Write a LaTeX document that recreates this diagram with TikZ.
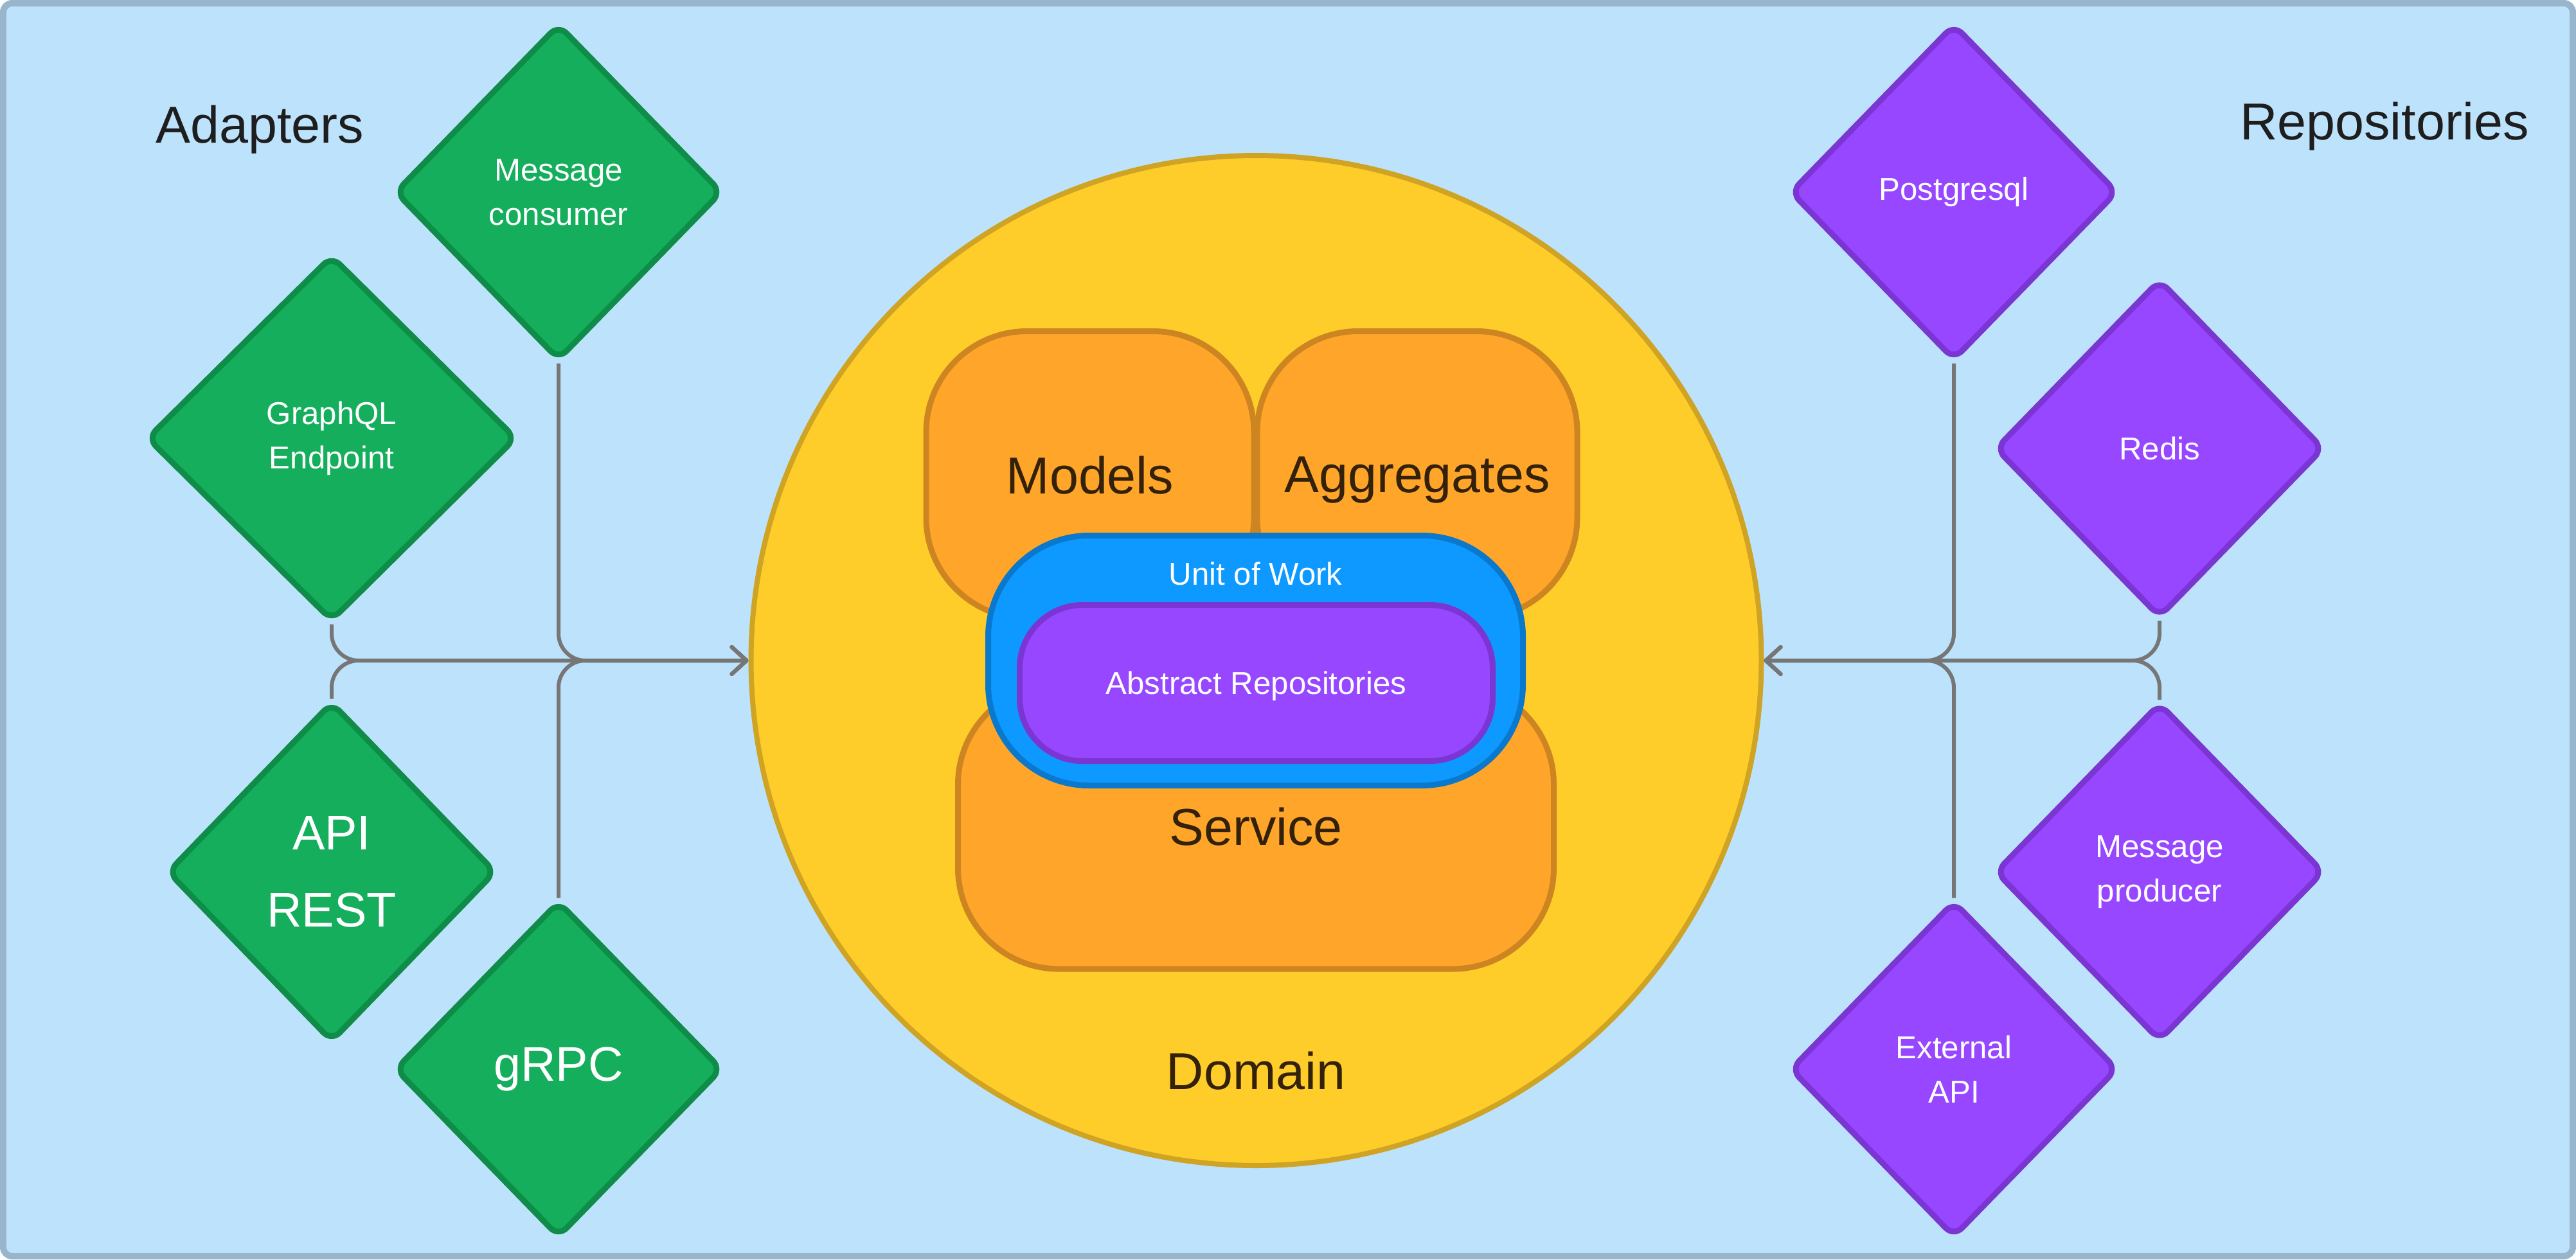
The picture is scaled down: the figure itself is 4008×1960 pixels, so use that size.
\documentclass[tikz,border=0pt]{standalone}
\usepackage{fontspec}
\setmainfont{Liberation Sans}
\usetikzlibrary{shapes.geometric,arrows.meta}
\definecolor{bgfill}{HTML}{BDE3FC}
\definecolor{bgline}{HTML}{97B6CC}
\definecolor{greenfill}{HTML}{14AE5C}
\definecolor{greenline}{HTML}{0E8C48}
\definecolor{purplefill}{HTML}{9747FF}
\definecolor{purpleline}{HTML}{7A35D2}
\definecolor{yellowfill}{HTML}{FFCD2A}
\definecolor{yellowline}{HTML}{CFA323}
\definecolor{orangefill}{HTML}{FFA62A}
\definecolor{orangeline}{HTML}{CD8522}
\definecolor{bluefill}{HTML}{0D99FF}
\definecolor{blueline}{HTML}{0A78CC}
\definecolor{linkgray}{HTML}{767676}
\definecolor{inktext}{HTML}{1E1E1E}
\definecolor{browntext}{HTML}{33210A}
\begin{document}
\begin{tikzpicture}[x=0.1mm,y=-0.1mm,
  adapter/.style={diamond,draw=greenline,fill=greenfill,line width=0.9mm,rounded corners=1.8mm,inner sep=0pt,minimum width=51mm,minimum height=52.4mm,text=white,align=center},
  repo/.style={adapter,draw=purpleline,fill=purplefill},
  small/.style={font=\fontsize{14}{19.6}\selectfont},
  big/.style={font=\fontsize{21.5}{34}\selectfont},
  title/.style={text=inktext,font=\fontsize{23}{28}\selectfont},
  block/.style={rectangle,draw=orangeline,fill=orangefill,line width=0.9mm,rounded corners=15.7mm,inner sep=0pt,text depth=0pt,text=browntext,font=\fontsize{23}{28}\selectfont},
  link/.style={draw=linkgray,line width=0.6mm,rounded corners=4.2mm,-{Straight Barb[length=2.3mm,width=4.2mm,round]}}]
\useasboundingbox (0,0) rectangle (4008,1960);
\draw[draw=bgline,fill=bgfill,line width=1mm,rounded corners=1.4mm] (5,5) rectangle (4003,1955);
% domain core
\node[circle,draw=yellowline,fill=yellowfill,line width=0.8mm,minimum size=157.2mm,inner sep=0pt] (domain) at (1954.5,1028) {};
\node[block,minimum width=51mm,minimum height=44.7mm] (models) at (1696,739) {Models};
\node[block,minimum width=49.8mm,minimum height=44.7mm] (aggregates) at (2205,739) {Aggregates};
\node[block,minimum width=92.7mm,minimum height=44.4mm] (service) at (1954,1286) {Service};
\node[rectangle,draw=blueline,fill=bluefill,line width=0.9mm,rounded corners=15.7mm,minimum width=83.2mm,minimum height=38.9mm] (uow) at (1953.5,1028) {};
\node[anchor=base,text=white,small] (uowlabel) at (1953.5,910) {Unit of Work};
\node[rectangle,draw=purpleline,fill=purplefill,line width=0.9mm,rounded corners=9.8mm,minimum width=73.6mm,minimum height=24.3mm,text depth=0pt,text=white,small] (absrepo) at (1954.5,1063) {Abstract Repositories};
\node[anchor=base,text=browntext,font=\fontsize{23}{28}\selectfont] (domainlabel) at (1954,1695) {Domain};
% adapters
\node[title,anchor=base west] (adapters) at (230,222) {Adapters};
\node[adapter,small] (mc) at (869,299) {Message\\consumer};
\node[adapter,small,minimum width=57.6mm,minimum height=57mm] (gql) at (516,682) {GraphQL\\Endpoint};
\node[adapter,big,minimum width=51.2mm,minimum height=53mm] (api) at (516,1357) {API\\REST};
\node[adapter,big] (grpc) at (869,1664) {gRPC};
% repositories
\node[title,anchor=base east] (repositories) at (3947,217) {Repositories};
\node[repo,small] (pg) at (3040,299) {Postgresql};
\node[repo,small,minimum width=51.2mm,minimum height=52.7mm] (redis) at (3360,698) {Redis};
\node[repo,small,minimum width=51.2mm,minimum height=52.7mm] (mp) at (3360,1357) {Message\\producer};
\node[repo,small] (ext) at (3040,1664) {External\\API};
% connectors
\draw[link] (gql.south) |- (domain.west);
\draw[link] (api.north) |- (domain.west);
\draw[link] (mc.south) |- (domain.west);
\draw[link] (grpc.north) |- (domain.west);
\draw[link] (pg.south) |- (domain.east);
\draw[link] (ext.north) |- (domain.east);
\draw[link] (redis.south) |- (domain.east);
\draw[link] (mp.north) |- (domain.east);
\end{tikzpicture}
\end{document}
